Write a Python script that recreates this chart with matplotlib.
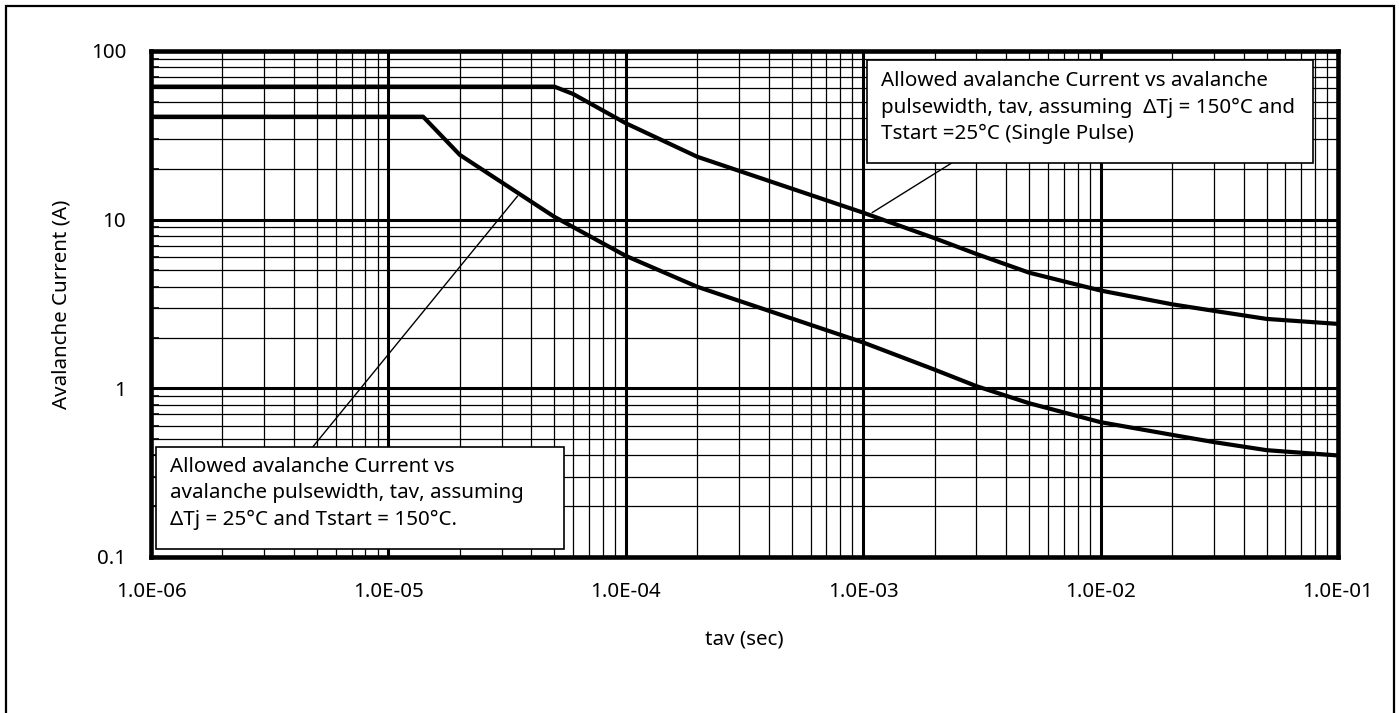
import matplotlib
matplotlib.use("Agg")
import matplotlib.pyplot as plt
from matplotlib.patches import Rectangle
from matplotlib.ticker import LogLocator, NullFormatter, FixedLocator

plt.rcParams['font.family'] = ['Noto Sans', 'DejaVu Sans']

# Avalanche current vs pulse width (log-log)
tav_single = [1e-6, 5.0e-5, 6.0e-5, 1e-4, 2e-4, 1e-3, 2e-3, 3e-3, 5e-3,
              1e-2, 2e-2, 3e-2, 5e-2, 1e-1]
iav_single = [61.5, 61.5, 55.6, 37.3, 23.6, 11.0, 7.76, 6.26, 4.85,
              3.8, 3.15, 2.88, 2.58, 2.41]

tav_hot = [1e-6, 1.4e-5, 2.0e-5, 5.0e-5, 1e-4, 2e-4, 1e-3, 2e-3, 3e-3, 5e-3,
           1e-2, 2e-2, 3e-2, 5e-2, 1e-1]
iav_hot = [40.8, 40.8, 24.2, 10.4, 6.1, 4.0, 1.87, 1.29, 1.03, 0.816,
           0.63, 0.53, 0.48, 0.43, 0.40]

x_ticks = [1e-6, 1e-5, 1e-4, 1e-3, 1e-2, 1e-1]
x_tick_labels = ["1.0E-06", "1.0E-05", "1.0E-04", "1.0E-03", "1.0E-02", "1.0E-01"]
y_ticks = [0.1, 1, 10, 100]
y_tick_labels = ["0.1", "1", "10", "100"]

note_single = ("Allowed avalanche Current vs avalanche\n"
               "pulsewidth, tav, assuming  \u0394Tj = 150\u00b0C and\n"
               "Tstart =25\u00b0C (Single Pulse)")
note_hot = ("Allowed avalanche Current vs\n"
            "avalanche pulsewidth, tav, assuming\n"
            "\u0394Tj = 25\u00b0C and Tstart = 150\u00b0C.")

FS = 14.8
W, H = 1399, 713
fig = plt.figure(figsize=(W / 100, H / 100), dpi=100)


def fx(px):
    return px / W


def fy(py):
    return 1 - py / H


ax = fig.add_axes([fx(151), fy(557), fx(1338) - fx(151), fy(51) - fy(557)])
ax.set_xscale('log')
ax.set_yscale('log')
ax.set_xlim(1e-6, 1e-1)
ax.set_ylim(0.1, 100)

ax.xaxis.set_major_locator(FixedLocator(x_ticks))
ax.set_xticklabels(x_tick_labels)
ax.yaxis.set_major_locator(FixedLocator(y_ticks))
ax.set_yticklabels(y_tick_labels)
ax.xaxis.set_minor_locator(LogLocator(base=10, subs=range(2, 10), numticks=20))
ax.yaxis.set_minor_locator(LogLocator(base=10, subs=range(2, 10), numticks=20))
ax.xaxis.set_minor_formatter(NullFormatter())
ax.yaxis.set_minor_formatter(NullFormatter())

ax.grid(which='major', color='black', linewidth=2.2)
ax.grid(which='minor', color='black', linewidth=0.9)
ax.set_axisbelow(True)

ax.tick_params(which='major', length=0, pad=18, labelsize=FS)
ax.tick_params(axis='y', which='minor', direction='in', length=6, width=1.2,
               color='black', left=True)
ax.tick_params(axis='x', which='minor', length=0)

for s in ax.spines.values():
    s.set_linewidth(3.3)
    s.set_color('black')

ax.plot(tav_single, iav_single, color='black', linewidth=3.0,
        solid_joinstyle='round', zorder=3)
ax.plot(tav_hot, iav_hot, color='black', linewidth=3.0,
        solid_joinstyle='round', zorder=3)

ax.set_ylabel("Avalanche Current (A)", fontsize=FS)
ax.set_xlabel("tav (sec)", fontsize=FS)
ax.yaxis.set_label_coords(fx(62 - 151) / (fx(1338) - fx(151)), 0.5)
ax.xaxis.set_label_coords(0.5, (fy(640) - fy(557)) / (fy(51) - fy(557)))
ax.xaxis.label.set_va('center')
ax.yaxis.label.set_va('center')

# Leader lines from the notes to the curves
ax.annotate("", xy=(1.09e-3, 11.0), xycoords='data',
            xytext=(fx(951.7), fy(163)), textcoords='figure fraction',
            arrowprops=dict(arrowstyle='-', color='black', lw=1.0,
                            shrinkA=0, shrinkB=0), zorder=4)
ax.annotate("", xy=(3.5e-5, 13.8), xycoords='data',
            xytext=(fx(312.7), fy(447)), textcoords='figure fraction',
            arrowprops=dict(arrowstyle='-', color='black', lw=1.0,
                            shrinkA=0, shrinkB=0), zorder=4)

# Note boxes
for (x0, y0, x1, y1), txt, tx, ty in [
        ((867, 60, 1313, 163), note_single, 881, 71),
        ((156, 447, 564, 549), note_hot, 170, 457)]:
    fig.patches.append(Rectangle((fx(x0), fy(y1)), fx(x1) - fx(x0), fy(y0) - fy(y1),
                                 transform=fig.transFigure, facecolor='white',
                                 edgecolor='black', linewidth=1.2, zorder=5))
    fig.text(fx(tx), fy(ty), txt, fontsize=FS, ha='left', va='top',
             linespacing=1.43, zorder=6)

# Outer frame
fig.patches.append(Rectangle((fx(6), fy(740)), fx(1394) - fx(6), fy(6) - fy(740),
                             transform=fig.transFigure, facecolor='none',
                             edgecolor='black', linewidth=1.6, zorder=0))

fig.savefig("out.png", dpi=100)
